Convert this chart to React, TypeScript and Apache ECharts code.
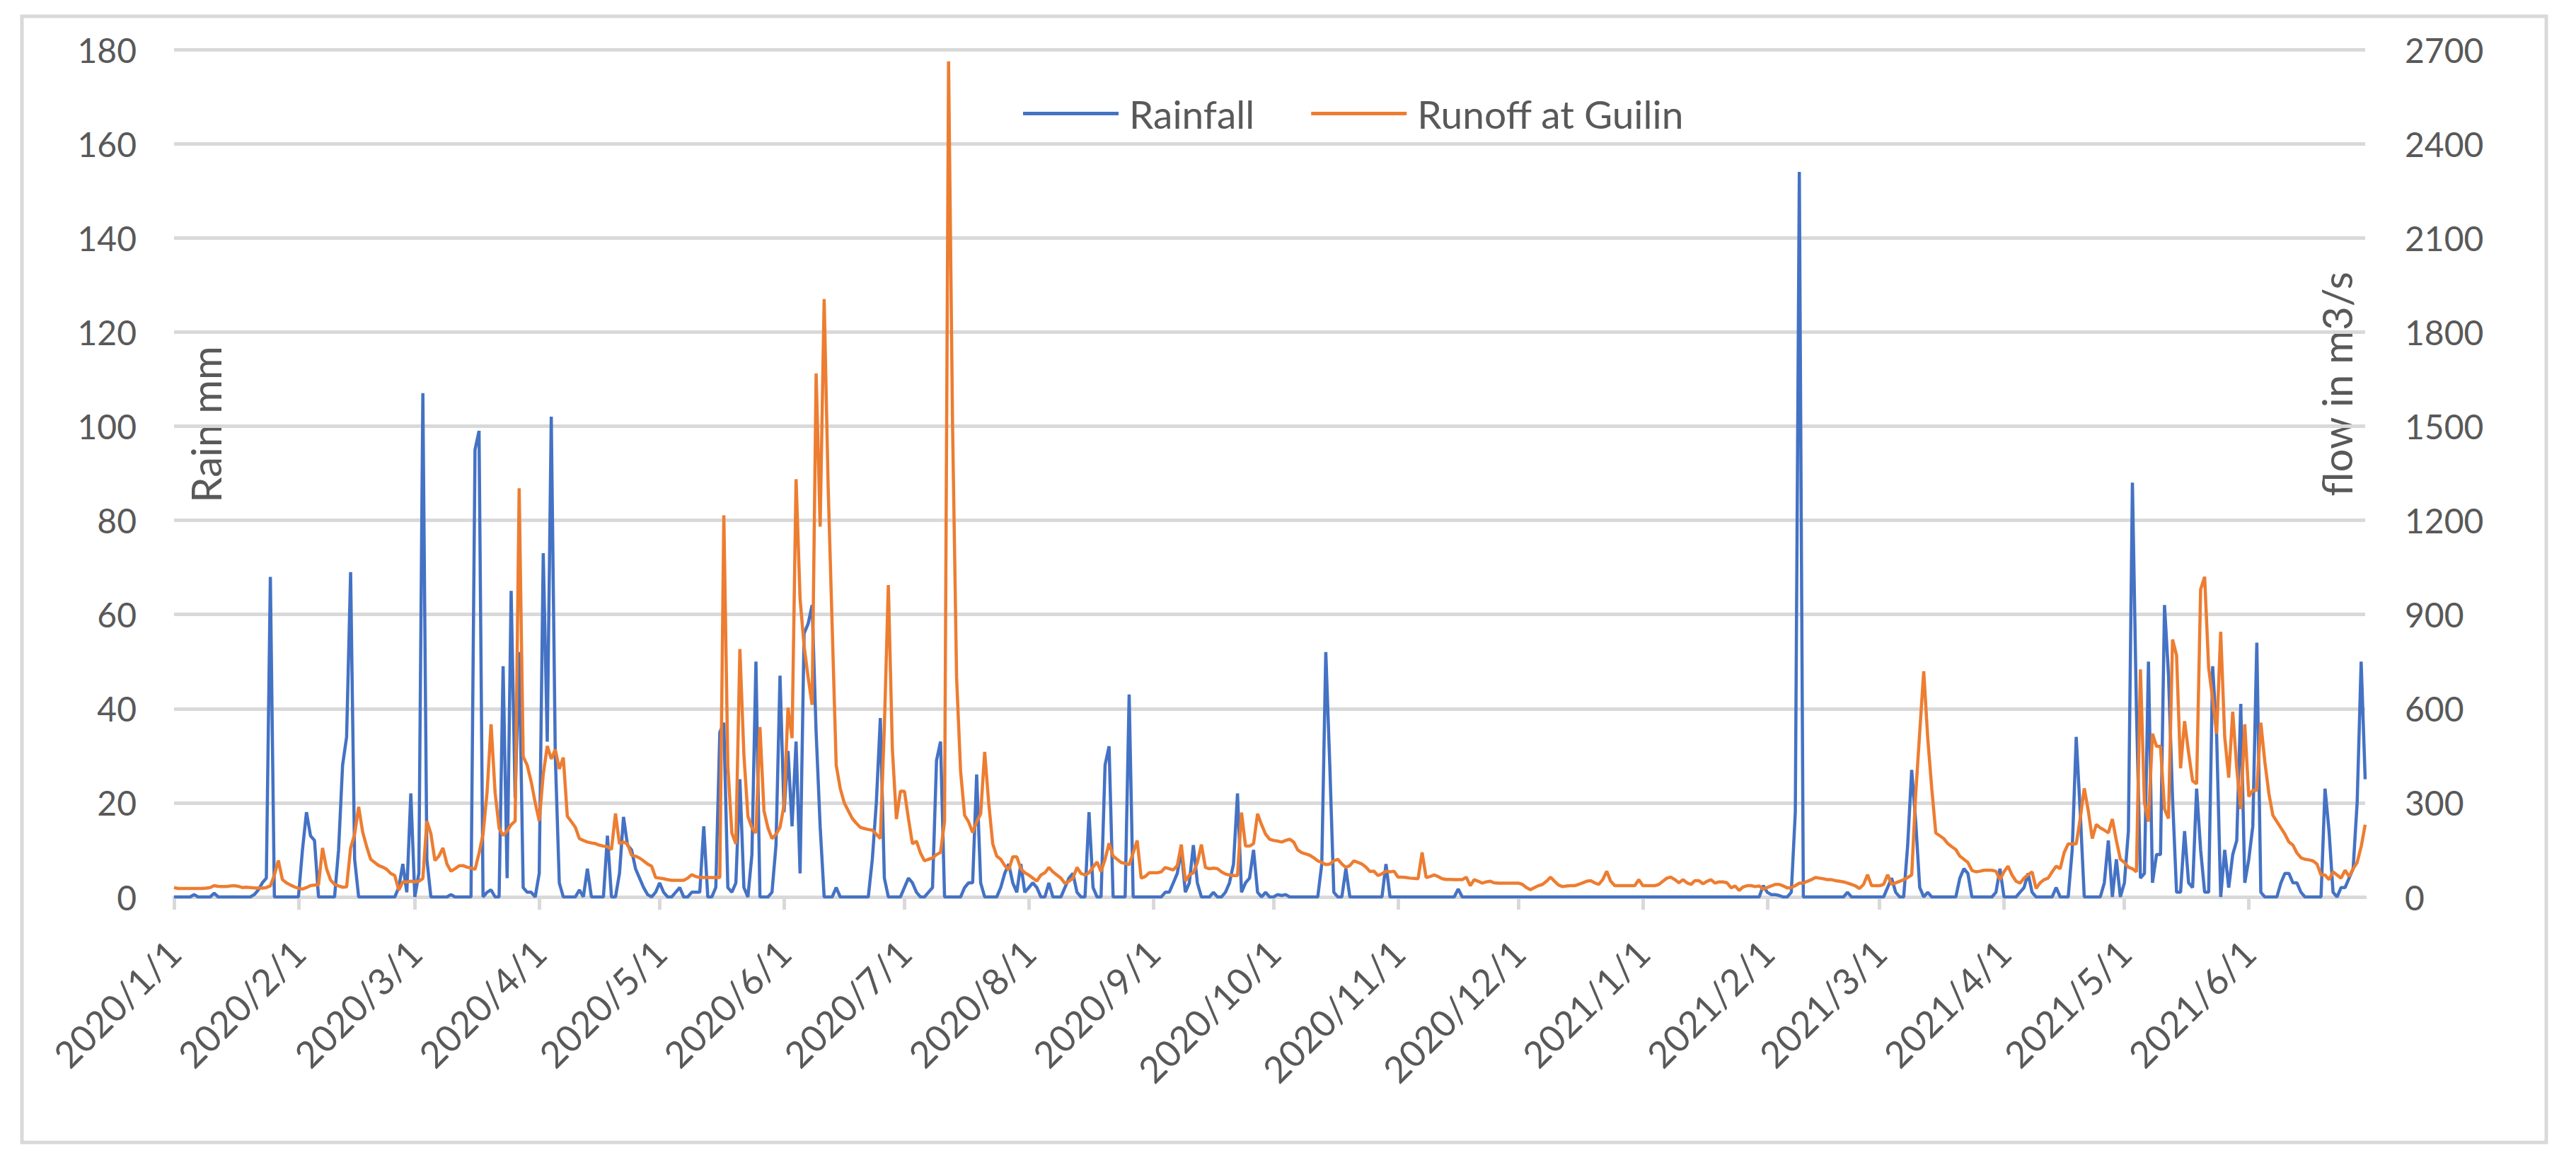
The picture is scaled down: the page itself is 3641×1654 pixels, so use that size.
import { useEffect, useRef } from 'react';
import * as echarts from 'echarts';

// month starts shown on the x axis, and the number of days in each
const months = [
  '2020/1', '2020/2', '2020/3', '2020/4', '2020/5', '2020/6',
  '2020/7', '2020/8', '2020/9', '2020/10', '2020/11', '2020/12',
  '2021/1', '2021/2', '2021/3', '2021/4', '2021/5', '2021/6',
];
const monthDays = [31, 29, 31, 30, 31, 30, 31, 31, 30, 31, 30, 31, 31, 28, 31, 30, 31, 30];

// daily rainfall, mm (left axis)
const rainfall = [
  // 2020/1
  0, 0, 0, 0, 0, 0.5, 0, 0, 0, 0, 0.8, 0, 0, 0, 0, 0, 0, 0, 0, 0, 0.5, 1.5, 3, 4, 68, 0, 0, 0, 0, 0, 0,
  // 2020/2
  0, 10, 18, 13, 12, 0, 0, 0, 0, 0, 10, 28, 34, 69, 8, 0, 0, 0, 0, 0, 0, 0, 0, 0, 0, 2, 7, 1, 22,
  // 2020/3
  0, 5, 107, 8, 0, 0, 0, 0, 0, 0.5, 0, 0, 0, 0, 0, 95, 99, 0, 1, 1.5, 0, 0, 49, 4, 65, 21, 52, 2, 1, 1, 0,
  // 2020/4
  5, 73, 33, 102, 30, 3, 0, 0, 0, 0, 1.5, 0, 6, 0, 0, 0, 0, 13, 0, 0, 5, 17, 11, 10, 6, 4, 2, 0.5, 0, 1,
  // 2020/5
  3, 1, 0, 0, 1, 2, 0, 0, 1, 1, 1, 15, 0, 0, 2, 35, 37, 2, 1, 3, 25, 2, 0, 9, 50, 0, 0, 0, 1, 11, 47,
  // 2020/6
  18, 31, 15, 33, 5, 56, 58, 62, 35, 15, 0, 0, 0, 2, 0, 0, 0, 0, 0, 0, 0, 0, 8, 20, 38, 4, 0, 0, 0, 0,
  // 2020/7
  2, 4, 3, 1, 0, 0, 1, 2, 29, 33, 0, 0, 0, 0, 0, 2, 3, 3, 26, 3, 0, 0, 0, 0, 2, 5, 7, 3, 1, 7, 1,
  // 2020/8
  2, 3, 2, 0, 0, 3, 0, 0, 0, 2, 4, 5, 1, 0, 0, 18, 2, 0, 0, 28, 32, 0, 0, 0, 0, 43, 0, 0, 0, 0, 0,
  // 2020/9
  0, 0, 0, 1, 1, 3, 5, 10, 1, 3, 11, 3, 0, 0, 0, 1, 0, 0, 1, 3, 7, 22, 1, 3, 4, 10, 1, 0, 1, 0,
  // 2020/10
  0, 0.5, 0.3, 0.5, 0, 0, 0, 0, 0, 0, 0, 0, 7, 52, 28, 1, 0, 0, 6, 0, 0, 0, 0, 0, 0, 0, 0, 0, 7, 0, 0,
  // 2020/11
  0, 0, 0, 0, 0, 0, 0, 0, 0, 0, 0, 0, 0, 0, 0, 1.7, 0, 0, 0, 0, 0, 0, 0, 0, 0, 0, 0, 0, 0, 0,
  // 2020/12
  0, 0, 0, 0, 0, 0, 0, 0, 0, 0, 0, 0, 0, 0, 0, 0, 0, 0, 0, 0, 0, 0, 0, 0, 0, 0, 0, 0, 0, 0, 0,
  // 2021/1
  0, 0, 0, 0, 0, 0, 0, 0, 0, 0, 0, 0, 0, 0, 0, 0, 0, 0, 0, 0, 0, 0, 0, 0, 0, 0, 0, 0, 0, 0, 2.4,
  // 2021/2
  1, 0.5, 0.5, 0.3, 0, 0, 1, 18, 154, 0, 0, 0, 0, 0, 0, 0, 0, 0, 0, 0, 1, 0, 0, 0, 0, 0, 0, 0,
  // 2021/3
  0, 0, 2, 4, 1, 0, 0, 11, 27, 16, 2, 0, 1, 0, 0, 0, 0, 0, 0, 0, 4, 6, 5, 0, 0, 0, 0, 0, 0, 1, 6,
  // 2021/4
  0, 0, 0, 0, 1, 2, 5, 1, 0, 0, 0, 0, 0, 2, 0, 0, 0, 10, 34, 18, 0, 0, 0, 0, 0, 3, 12, 0, 8, 0,
  // 2021/5
  3, 14, 88, 40, 4, 5, 50, 3, 9, 9, 62, 47, 21, 1, 1, 14, 3, 2, 23, 10, 1, 1, 49, 34, 0, 10, 2, 9, 12, 41, 3,
  // 2021/6
  8, 15, 54, 1, 0, 0, 0, 0, 3, 5, 5, 3, 3, 1, 0, 0, 0, 0, 0, 23, 14, 1, 0, 2, 2, 4, 6, 20, 50, 25,
];

// daily runoff at Guilin, m3/s (right axis)
const runoff = [
  // 2020/1
  30, 27, 27, 27, 27, 27, 27, 27, 28, 30, 36, 34, 33, 33, 35, 36, 34, 30, 31, 30, 29, 28, 28, 30, 35, 70, 116, 55, 45, 38, 32,
  // 2020/2
  28, 25, 30, 36, 38, 39, 156, 90, 54, 40, 35, 31, 32, 156, 200, 287, 207, 160, 120, 110, 100, 95, 88, 75, 68, 22, 48, 48, 50,
  // 2020/3
  48, 50, 59, 242, 202, 116, 130, 156, 105, 82, 90, 99, 100, 95, 92, 88, 139, 200, 333, 550, 333, 219, 196, 210, 230, 242, 1302, 447, 420, 367, 300,
  // 2020/4
  242, 390, 481, 440, 470, 408, 444, 257, 240, 222, 186, 180, 175, 172, 170, 165, 162, 160, 151, 266, 169, 175, 169, 133, 130, 124, 115, 105, 98, 62,
  // 2020/5
  60, 58, 55, 53, 53, 53, 53, 60, 71, 65, 62, 62, 62, 62, 62, 62, 1216, 417, 204, 169, 790, 453, 257, 220, 204, 541, 275, 220, 186, 200, 222,
  // 2020/6
  293, 603, 506, 1331, 950, 800, 700, 612, 1668, 1180, 1905, 1305, 861, 420, 346, 300, 275, 250, 235, 222, 218, 215, 213, 200, 186, 541, 994, 470, 248, 337,
  // 2020/7
  337, 250, 169, 178, 140, 115, 120, 124, 135, 142, 240, 2662, 1500, 700, 400, 260, 239, 205, 239, 265, 462, 300, 170, 130, 120, 100, 86, 128, 128, 90, 77,
  // 2020/8
  70, 60, 51, 70, 77, 94, 80, 70, 60, 43, 50, 60, 94, 75, 70, 77, 95, 111, 81, 120, 171, 130, 120, 110, 107, 103, 140, 180, 60, 65, 77,
  // 2020/9
  77, 77, 80, 94, 90, 86, 100, 167, 51, 70, 77, 110, 167, 94, 90, 92, 90, 80, 73, 70, 68, 68, 269, 162, 162, 170, 265, 230, 200, 184,
  // 2020/10
  180, 178, 175, 180, 184, 175, 150, 141, 137, 133, 125, 115, 110, 103, 105, 115, 120, 105, 94, 100, 115, 110, 105, 95, 81, 82, 68, 74, 82, 80, 82,
  // 2020/11
  63, 63, 62, 60, 59, 58, 142, 62, 65, 70, 65, 58, 56, 56, 55, 55, 55, 63, 36, 55, 50, 44, 48, 50, 45, 44, 44, 44, 44, 44,
  // 2020/12
  44, 40, 30, 23, 30, 36, 40, 50, 63, 50, 38, 33, 35, 36, 36, 40, 45, 50, 52, 45, 40, 55, 82, 50, 36, 36, 36, 36, 36, 36, 55,
  // 2021/1
  36, 36, 36, 36, 40, 50, 60, 63, 55, 45, 55, 45, 40, 52, 52, 42, 50, 55, 44, 48, 48, 45, 29, 35, 21, 32, 36, 36, 33, 35, 25,
  // 2021/2
  30, 35, 40, 40, 35, 29, 30, 36, 44, 44, 50, 55, 62, 60, 58, 55, 55, 52, 50, 48, 44, 40, 35, 27, 40, 71, 36, 36,
  // 2021/3
  36, 40, 71, 40, 45, 50, 55, 62, 70, 328, 524, 719, 506, 346, 204, 195, 186, 170, 160, 151, 130, 120, 110, 85, 80, 82, 85, 85, 85, 82, 55,
  // 2021/4
  80, 98, 70, 50, 44, 60, 71, 80, 27, 45, 55, 60, 80, 98, 90, 142, 169, 169, 169, 250, 346, 275, 186, 231, 220, 213, 204, 248, 180, 120,
  // 2021/5
  110, 95, 90, 80, 725, 300, 240, 520, 480, 480, 280, 250, 820, 770, 410, 560, 460, 370, 360, 980, 1020, 730, 630, 520, 845, 510, 380, 590, 410, 280, 550,
  // 2021/6
  320, 340, 340, 555, 430, 330, 260, 240, 220, 200, 175, 165, 140, 125, 120, 118, 115, 105, 70, 70, 55, 80, 70, 60, 85, 65, 90, 110, 160, 230,
];

const dates: string[] = [];
months.forEach((m, i) => {
  for (let d = 1; d <= monthDays[i]; d++) dates.push(`${m}/${d}`);
});

const isMonthStart = (_index: number, value: string) => value.endsWith('/1');

const FONT = 'Lato, "Noto Sans", sans-serif';
const GREY_TEXT = '#595959';
const GRID_GREY = '#d9d9d9';

export default function App() {
  const chartRef = useRef<HTMLDivElement>(null);

  useEffect(() => {
    if (!chartRef.current) return;
    const chart = echarts.init(chartRef.current, undefined, { renderer: 'svg' });

    const option: echarts.EChartsOption = {
      animation: false,
      backgroundColor: '#ffffff',
      textStyle: { fontFamily: FONT },
      grid: { left: 246, right: 298, top: 70, bottom: 386, containLabel: false },
      legend: {
        data: ['Rainfall', 'Runoff at Guilin'],
        left: 1441,
        top: 128,
        icon: 'rect',
        itemWidth: 135,
        itemHeight: 5,
        itemGap: 80,
        textStyle: { fontSize: 55, color: GREY_TEXT, fontFamily: FONT, padding: [0, 0, 0, 10] },
      },
      xAxis: {
        type: 'category',
        data: dates,
        boundaryGap: false,
        axisLine: { lineStyle: { color: GRID_GREY, width: 5 } },
        axisTick: {
          show: true,
          interval: isMonthStart,
          length: 18,
          lineStyle: { color: GRID_GREY, width: 5 },
        },
        axisLabel: {
          interval: isMonthStart,
          rotate: 45,
          fontSize: 52,
          color: GREY_TEXT,
          fontFamily: FONT,
          margin: 70,
        },
        splitLine: { show: false },
      },
      yAxis: [
        {
          type: 'value',
          min: 0,
          max: 180,
          interval: 20,
          axisLine: { show: false },
          axisTick: { show: false },
          axisLabel: { fontSize: 48, color: GREY_TEXT, fontFamily: FONT, margin: 53 },
          splitLine: { lineStyle: { color: GRID_GREY, width: 5 } },
        },
        {
          type: 'value',
          min: 0,
          max: 2700,
          interval: 300,
          position: 'right',
          axisLine: { show: false },
          axisTick: { show: false },
          axisLabel: {
            fontSize: 48,
            color: GREY_TEXT,
            fontFamily: FONT,
            margin: 56,
            formatter: (v: number) => String(v),
          },
          splitLine: { show: false },
        },
      ],
      series: [
        {
          name: 'Rainfall',
          type: 'line',
          data: rainfall,
          yAxisIndex: 0,
          symbol: 'none',
          showSymbol: false,
          lineStyle: { color: '#4472C4', width: 4.5 },
          itemStyle: { color: '#4472C4' },
        },
        {
          name: 'Runoff at Guilin',
          type: 'line',
          data: runoff,
          yAxisIndex: 1,
          symbol: 'none',
          showSymbol: false,
          lineStyle: { color: '#ED7D31', width: 4.5 },
          itemStyle: { color: '#ED7D31' },
        },
      ],
      graphic: [
        {
          type: 'rect',
          shape: { x: 31, y: 23, width: 3568, height: 1592 },
          style: { fill: 'none', stroke: GRID_GREY, lineWidth: 5 },
          silent: true,
        },
        {
          type: 'text',
          x: 290,
          y: 600,
          rotation: Math.PI / 2,
          style: {
            text: 'Rain mm',
            fontSize: 58,
            fontFamily: FONT,
            fill: GREY_TEXT,
            textAlign: 'center',
            textVerticalAlign: 'middle',
          },
        },
        {
          type: 'text',
          x: 3302,
          y: 543,
          rotation: Math.PI / 2,
          style: {
            text: 'flow in m3/s',
            fontSize: 58,
            fontFamily: FONT,
            fill: GREY_TEXT,
            textAlign: 'center',
            textVerticalAlign: 'middle',
          },
        },
      ],
    };

    chart.setOption(option);
    return () => chart.dispose();
  }, []);

  return (
    <div
      ref={chartRef}
      style={{ position: 'fixed', left: 0, top: 0, width: '3641px', height: '1654px', background: '#fff' }}
    />
  );
}
